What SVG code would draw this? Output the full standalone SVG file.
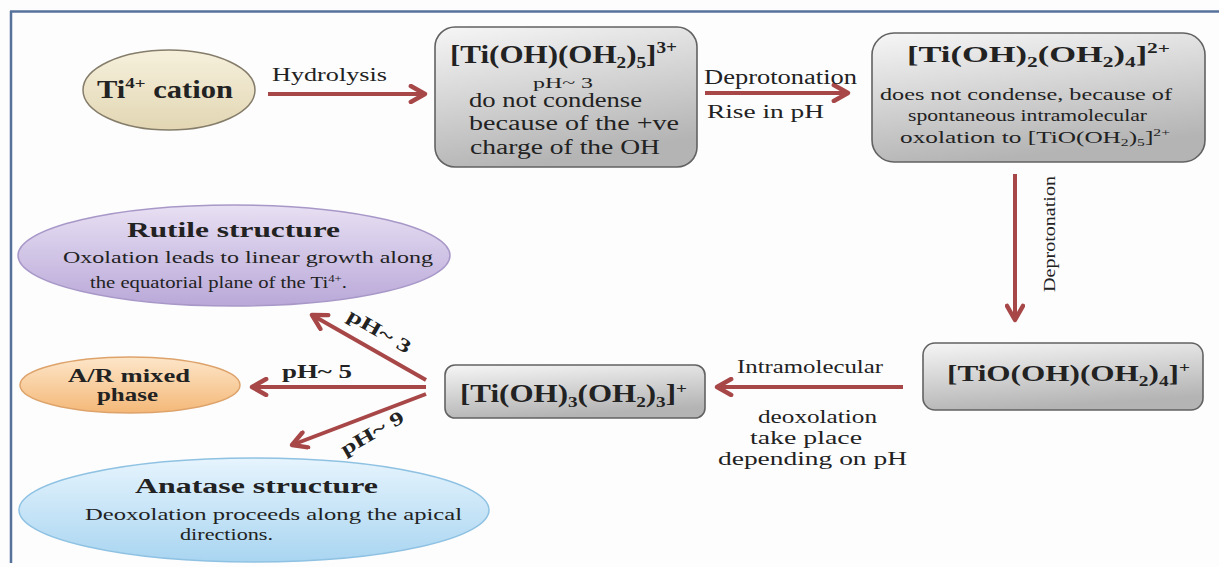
<svg xmlns="http://www.w3.org/2000/svg" width="1219" height="567" viewBox="0 0 1219 567">
<style>
.t{font-family:"Liberation Serif","Times New Roman",serif;fill:#222}
.b{font-weight:bold}
.sb{font-size:62%}
.sp{font-size:62%}
.box{fill:url(#gBox);stroke:#626262;stroke-width:1.6}
.ln{fill:none;stroke:#a84747;stroke-width:4;marker-end:url(#ah)}
</style>
<defs>
<linearGradient id="gBox" x1="0" y1="0" x2="0.3" y2="1"><stop offset="0" stop-color="#f6f6f6"/><stop offset="1" stop-color="#b4b4b4"/></linearGradient>
<linearGradient id="gTi" x1="0" y1="0" x2="0" y2="1"><stop offset="0" stop-color="#f6f0dc"/><stop offset="1" stop-color="#e2d6b3"/></linearGradient>
<linearGradient id="gRu" x1="0" y1="0" x2="0" y2="1"><stop offset="0" stop-color="#e8e0f3"/><stop offset="1" stop-color="#b9a8d8"/></linearGradient>
<linearGradient id="gAR" x1="0" y1="0" x2="0" y2="1"><stop offset="0" stop-color="#fde6c9"/><stop offset="1" stop-color="#f4b878"/></linearGradient>
<linearGradient id="gAn" x1="0" y1="0" x2="0" y2="1"><stop offset="0" stop-color="#e6f4fd"/><stop offset="1" stop-color="#a9d5f1"/></linearGradient>
<marker id="ah" viewBox="0 0 10 10" refX="8.6" refY="5" markerWidth="20" markerHeight="20" orient="auto" markerUnits="userSpaceOnUse">
<path d="M1.5,1 L8.6,5 L1.5,9" fill="none" stroke="#a84747" stroke-width="2.2" stroke-linecap="round" stroke-linejoin="round"/>
</marker>
</defs>
<rect width="1219" height="567" fill="#fdfdfe"/>
<g id="frame" stroke="#56729a" stroke-width="2.5" fill="none">
<line x1="10" y1="11.5" x2="1219" y2="11.5"/>
<line x1="11" y1="11" x2="11" y2="563"/>
</g>

<g id="connectors">
<line class="ln" x1="268" y1="94" x2="425" y2="94"/>
<line class="ln" x1="705" y1="93" x2="848" y2="93"/>
<line class="ln" x1="1015" y1="174" x2="1015" y2="320"/>
<line class="ln" x1="903" y1="387" x2="717" y2="387"/>
<line class="ln" x1="426" y1="380" x2="312" y2="315"/>
<line class="ln" x1="426" y1="387" x2="252" y2="387"/>
<line class="ln" x1="426" y1="394" x2="292" y2="445"/>
<text class="t" x="272" y="81" font-size="19" textLength="115" lengthAdjust="spacingAndGlyphs">Hydrolysis</text>
<text class="t" x="704" y="84" font-size="20" textLength="153" lengthAdjust="spacingAndGlyphs">Deprotonation</text>
<text class="t" x="707" y="118" font-size="19" textLength="117" lengthAdjust="spacingAndGlyphs">Rise in pH</text>
<text class="t" transform="translate(1055,292) rotate(-90)" font-size="17" textLength="116" lengthAdjust="spacingAndGlyphs">Deprotonation</text>
<text class="t" x="737" y="373" font-size="19" textLength="146" lengthAdjust="spacingAndGlyphs">Intramolecular</text>
<text class="t" x="758" y="423" font-size="19" textLength="119" lengthAdjust="spacingAndGlyphs">deoxolation</text>
<text class="t" x="750" y="444" font-size="19" textLength="112" lengthAdjust="spacingAndGlyphs">take place</text>
<text class="t" x="718" y="465" font-size="19" textLength="189" lengthAdjust="spacingAndGlyphs">depending  on pH</text>
<text class="t b" x="282" y="378" font-size="18" textLength="70" lengthAdjust="spacingAndGlyphs">pH~ 5</text>
<text class="t b" transform="translate(346,319) rotate(30)" font-size="19" textLength="70" lengthAdjust="spacingAndGlyphs">pH~ 3</text>
<text class="t b" transform="translate(345,456) rotate(-30)" font-size="19" textLength="70" lengthAdjust="spacingAndGlyphs">pH~ 9</text>
</g>

<g id="ti-cation">
<ellipse cx="169" cy="90" rx="86" ry="40" fill="url(#gTi)" stroke="#857d6a" stroke-width="1.5"/>
<text class="t b" x="97" y="98" font-size="25" textLength="136" lengthAdjust="spacingAndGlyphs">Ti<tspan class="sp" dy="-10">4+</tspan><tspan dy="10"> cation</tspan></text>
</g>

<g id="box1">
<rect class="box" x="435" y="27" width="262" height="140" rx="20"/>
<text class="t b" x="450" y="63" font-size="26" textLength="227" lengthAdjust="spacingAndGlyphs">[Ti(OH)(OH<tspan class="sb" dy="5">2</tspan><tspan dy="-5">)</tspan><tspan class="sb" dy="5">5</tspan><tspan dy="-5">]</tspan><tspan class="sp" dy="-10">3+</tspan></text>
<text class="t" x="533" y="88" font-size="14" textLength="60" lengthAdjust="spacingAndGlyphs">pH~ 3</text>
<text class="t" x="469" y="107" font-size="20" textLength="173" lengthAdjust="spacingAndGlyphs">do not condense</text>
<text class="t" x="469" y="130" font-size="20" textLength="210" lengthAdjust="spacingAndGlyphs">because  of the +ve</text>
<text class="t" x="470" y="154" font-size="20" textLength="190" lengthAdjust="spacingAndGlyphs">charge  of the OH</text>
</g>

<g id="box2">
<rect class="box" x="872" y="33" width="333" height="129" rx="22"/>
<text class="t b" x="907" y="62" font-size="24" textLength="263" lengthAdjust="spacingAndGlyphs">[Ti(OH)<tspan class="sb" dy="5">2</tspan><tspan dy="-5">(OH</tspan><tspan class="sb" dy="5">2</tspan><tspan dy="-5">)</tspan><tspan class="sb" dy="5">4</tspan><tspan dy="-5">]</tspan><tspan class="sp" dy="-9">2+</tspan></text>
<text class="t" x="880" y="100" font-size="16" textLength="292" lengthAdjust="spacingAndGlyphs">does not condense, because of</text>
<text class="t" x="908" y="121" font-size="16" textLength="239" lengthAdjust="spacingAndGlyphs">spontaneous intramolecular</text>
<text class="t" x="900" y="143" font-size="16" textLength="270" lengthAdjust="spacingAndGlyphs">oxolation to [TiO(OH<tspan class="sb" dy="3">2</tspan><tspan dy="-3">)</tspan><tspan class="sb" dy="3">5</tspan><tspan dy="-3">]</tspan><tspan class="sp" dy="-7">2+</tspan></text>
</g>

<g id="box3">
<rect class="box" x="923" y="343" width="280" height="67" rx="12"/>
<text class="t b" x="947" y="381" font-size="24" textLength="243" lengthAdjust="spacingAndGlyphs">[TiO(OH)(OH<tspan class="sb" dy="5">2</tspan><tspan dy="-5">)</tspan><tspan class="sb" dy="5">4</tspan><tspan dy="-5">]</tspan><tspan class="sp" dy="-9">+</tspan></text>
</g>

<g id="box4">
<rect class="box" x="445" y="365" width="260" height="53" rx="10"/>
<text class="t b" x="460" y="402" font-size="25" textLength="227" lengthAdjust="spacingAndGlyphs">[Ti(OH)<tspan class="sb" dy="5">3</tspan><tspan dy="-5">(OH</tspan><tspan class="sb" dy="5">2</tspan><tspan dy="-5">)</tspan><tspan class="sb" dy="5">3</tspan><tspan dy="-5">]</tspan><tspan class="sp" dy="-9">+</tspan></text>
</g>

<g id="rutile">
<ellipse cx="234" cy="255.5" rx="216" ry="50.5" fill="url(#gRu)" stroke="#a898c8" stroke-width="1.5"/>
<text class="t b" x="127" y="237" font-size="20" textLength="213" lengthAdjust="spacingAndGlyphs">Rutile structure</text>
<text class="t" x="63" y="263" font-size="16" textLength="370" lengthAdjust="spacingAndGlyphs">Oxolation leads to linear  growth along</text>
<text class="t" x="90" y="288" font-size="16" textLength="257" lengthAdjust="spacingAndGlyphs">the equatorial  plane of the Ti<tspan class="sp" dy="-6">4+</tspan><tspan dy="6">.</tspan></text>
</g>

<g id="ar-mixed">
<ellipse cx="130" cy="385" rx="110" ry="28" fill="url(#gAR)" stroke="#dda36b" stroke-width="1.5"/>
<text class="t b" x="68" y="382" font-size="19" textLength="122" lengthAdjust="spacingAndGlyphs">A/R mixed</text>
<text class="t b" x="97" y="401" font-size="19" textLength="61" lengthAdjust="spacingAndGlyphs">phase</text>
</g>

<g id="anatase">
<ellipse cx="254" cy="510" rx="235" ry="52" fill="url(#gAn)" stroke="#8fc2e2" stroke-width="1.5"/>
<text class="t b" x="135" y="493" font-size="20" textLength="243" lengthAdjust="spacingAndGlyphs">Anatase structure</text>
<text class="t" x="85" y="520" font-size="16" textLength="377" lengthAdjust="spacingAndGlyphs">Deoxolation  proceeds along the apical</text>
<text class="t" x="180" y="540" font-size="16" textLength="93" lengthAdjust="spacingAndGlyphs">directions.</text>
</g>
</svg>
